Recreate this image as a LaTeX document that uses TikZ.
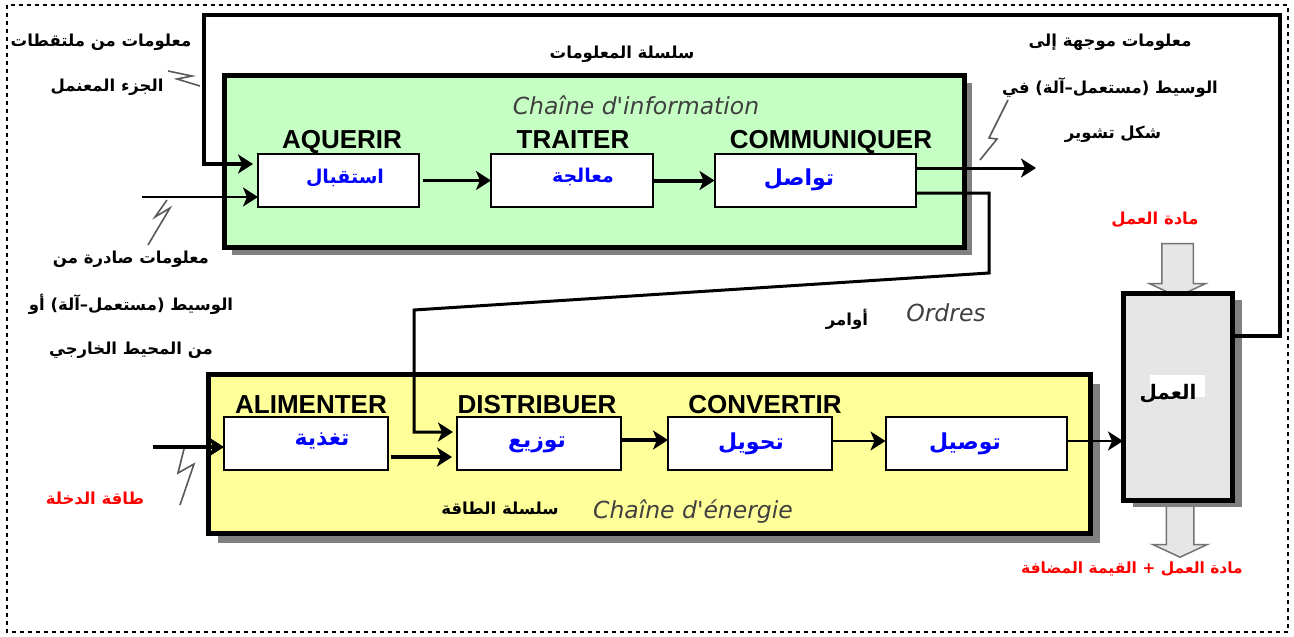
\documentclass[tikz,border=0pt]{standalone}
\usepackage{fontspec}
\usetikzlibrary{shapes.arrows,shadows,arrows.meta,positioning}
\TeXXeTstate=1
\newfontfamily\arabicfont[Script=Arabic]{DejaVu Sans}
\newfontfamily\headfont{Liberation Sans}
\newfontfamily\chainfont{DejaVu Sans}
\newcommand{\ar}[1]{\arabicfont\bfseries\beginR #1\endR}
\definecolor{infogreen}{HTML}{C6FFC4}
\definecolor{energyyellow}{HTML}{FFFF99}
\definecolor{matiergray}{HTML}{E6E6E6}
\begin{document}
\begin{tikzpicture}[
    x=1pt, y=-1pt,
    chain/.style={rectangle, draw, line width=5pt, anchor=north west, inner sep=0pt, outer sep=0pt},
    fn/.style={rectangle, draw, fill=white, line width=2pt, inner sep=0pt, outer sep=0pt, minimum height=53pt},
    head/.style={font=\fontsize{26}{26}\headfont\bfseries, inner sep=0pt, text height=18pt, text depth=0pt},
    fntext/.style={font=\fontsize{22}{26}\selectfont, text=blue, inner sep=0pt},
    smallfn/.style={fntext, font=\fontsize{19}{26}\selectfont},
    note/.style={font=\fontsize{16.5}{18}\selectfont, inner sep=0pt},
    rednote/.style={note, text=red},
    french/.style={font=\fontsize{23.5}{26}\chainfont\itshape, text=black!75, inner sep=0pt},
    link/.style={draw, -{Stealth[length=15pt, width=19pt, inset=4pt]}, line width=3pt},
    bolt/.style={draw=black!65, line width=1.6pt},
    flow/.style={single arrow, draw=black!55, fill=matiergray, line width=1.5pt, rotate=-90, inner xsep=0pt, single arrow tip angle=130}
    ]

\useasboundingbox (0,0) rectangle (1294,637);
\draw[line width=2pt, dash pattern=on 4pt off 4pt] (7,5) rectangle (1288,632);

\node[chain, fill=infogreen, minimum width=740pt, minimum height=172pt,
    drop shadow={shadow xshift=8pt, shadow yshift=-8pt, fill=gray, opacity=1}] (info) at (224,75) {};
\node[chain, fill=energyyellow, minimum width=882pt, minimum height=159pt,
    drop shadow={shadow xshift=10pt, shadow yshift=-10pt, fill=gray, opacity=1}] (energy) at (208,374) {};

\node[flow, minimum height=53pt, inner ysep=15pt, single arrow head extend=12.5pt] (matin) at (1177.5,266.5) {};
\node[flow, minimum height=54pt, inner ysep=13pt, single arrow head extend=13.5pt] (matout) at (1180,527) {};
\node[chain, fill=matiergray, minimum width=109pt, minimum height=207pt,
    drop shadow={shadow xshift=10pt, shadow yshift=-7pt, fill=gray, opacity=1}] (action) at (1123,293) {};
\fill[white] (1150,375) rectangle (1205,397);

\node[fn, minimum width=161pt] (acquerir) at (338.5,180.5) {};
\node[fn, minimum width=162pt] (traiter) at (572,180.5) {};
\node[fn, minimum width=201pt] (communiquer) at (815,180.5) {};
\node[fn, minimum width=164pt] (alimenter) at (306,443.5) {};
\node[fn, minimum width=164pt] (distribuer) at (539,443.5) {};
\node[fn, minimum width=164pt] (convertir) at (750,443.5) {};
\node[fn, minimum width=181pt] (transmettre) at (976,443.5) {};

\node[head] (acquerirhead) at (342,139) {AQUERIR};
\node[head] (traiterhead) at (573,139) {TRAITER};
\node[head] (communiquerhead) at (831,139) {COMMUNIQUER};
\node[head] (alimenterhead) at (311,404) {ALIMENTER};
\node[head] (distribuerhead) at (537,404) {DISTRIBUER};
\node[head] (convertirhead) at (765,404) {CONVERTIR};

\node[smallfn] (acquerirtext) at (345,178) {\ar{استقبال}};
\node[smallfn] (traitertext) at (583,177) {\ar{معالجة}};
\node[fntext] (communiquertext) at (799,180) {\ar{تواصل}};
\node[fntext] (alimentertext) at (322,441) {\ar{تغذية}};
\node[fntext] (distribuertext) at (537,445) {\ar{توزيع}};
\node[fntext] (convertirtext) at (751,444) {\ar{تحويل}};
\node[fntext] (transmettretext) at (965,444) {\ar{توصيل}};

\node[french] (infotitle) at (636,105) {Chaîne d'information};
\node[french] (energytitle) at (693,512) {Chaîne d'énergie};
\node[french] (orderstitle) at (946,313) {Ordres};

\node[note] (sensora) at (101,42) {\ar{معلومات من ملتقطات}};
\node[note] (sensorb) at (107,87) {\ar{الجزء المعنمل}};
\node[note] (infoname) at (622,54) {\ar{سلسلة المعلومات}};
\node[note] (outa) at (1110,42) {\ar{معلومات موجهة إلى}};
\node[note] (outb) at (1110,88) {\ar{الوسيط (مستعمل–آلة) في}};
\node[note] (outc) at (1113,134) {\ar{شكل تشوير}};
\node[note] (ina) at (131,259) {\ar{معلومات صادرة من}};
\node[note] (inb) at (131,304) {\ar{الوسيط (مستعمل–آلة) أو}};
\node[note] (inc) at (131,350) {\ar{من المحيط الخارجي}};
\node[note] (ordersname) at (847,319) {\ar{أوامر}};
\node[note] (energyname) at (500,508) {\ar{سلسلة الطاقة}};
\node[note, font=\fontsize{20}{24}\selectfont] (actionname) at (1168,394) {\ar{العمل}};
\node[rednote] (matinname) at (1155,220) {\ar{مادة العمل}};
\node[rednote] (energyin) at (95,498) {\ar{طاقة الدخلة}};
\node[rednote, font=\fontsize{15.5}{18}\selectfont] (matoutname) at (1132,569) {\ar{مادة العمل + القيمة المضافة}};

\coordinate (loopright) at (1280,15);
\coordinate (loopleft) at (203.5,15);
\coordinate (datain) at (142,197);
\coordinate (dataout) at (1036,168);
\coordinate (ordersright) at (989,273);
\coordinate (ordersleft) at (414,310);
\coordinate (powerin) at (153,447);

\draw[link, line width=4pt, shorten >=5pt] ([yshift=61pt]action.east) -| (loopright) -- (loopleft) |- ([yshift=16.5pt]acquerir.west);
\draw[link, line width=2.5pt] (datain) -- ([yshift=-16.5pt]acquerir.west);
\draw[link, shorten <=4pt] (acquerir) -- (traiter);
\draw[link, line width=4pt] (traiter) -- (communiquer);
\draw[link] ([yshift=12.5pt]communiquer.east) -- (dataout);
\draw[link, line width=3pt, shorten >=4pt] ([yshift=-12.5pt]communiquer.east) -| (ordersright) -- (ordersleft) |- ([yshift=11.5pt]distribuer.west);
\draw[link, line width=4.5pt] (powerin) -- ([yshift=-3.5pt]alimenter.west);
\draw[link, line width=3.5pt, shorten <=3pt, shorten >=5pt] ([yshift=-13.5pt]alimenter.east) -- ([yshift=-13.5pt]distribuer.west);
\draw[link, line width=4pt] ([yshift=3.5pt]distribuer.east) -- ([yshift=3.5pt]convertir.west);
\draw[link, line width=2.5pt] ([yshift=2.5pt]convertir.east) -- ([yshift=2.5pt]transmettre.west);
\draw[link, line width=2.5pt] ([yshift=2.5pt]transmettre.east) -- ([yshift=-44.5pt]action.west);

\draw[bolt] (168,71) -- (192,76) -- (177,79) -- (200,86);
\draw[bolt] (167,200) -- (155,217) -- (170,208) -- (148,245);
\draw[bolt] (1008,100) -- (989,138) -- (997,139) -- (980,160);
\draw[bolt] (184,449) -- (178,473) -- (194,464) -- (180,505);
\end{tikzpicture}
\end{document}
